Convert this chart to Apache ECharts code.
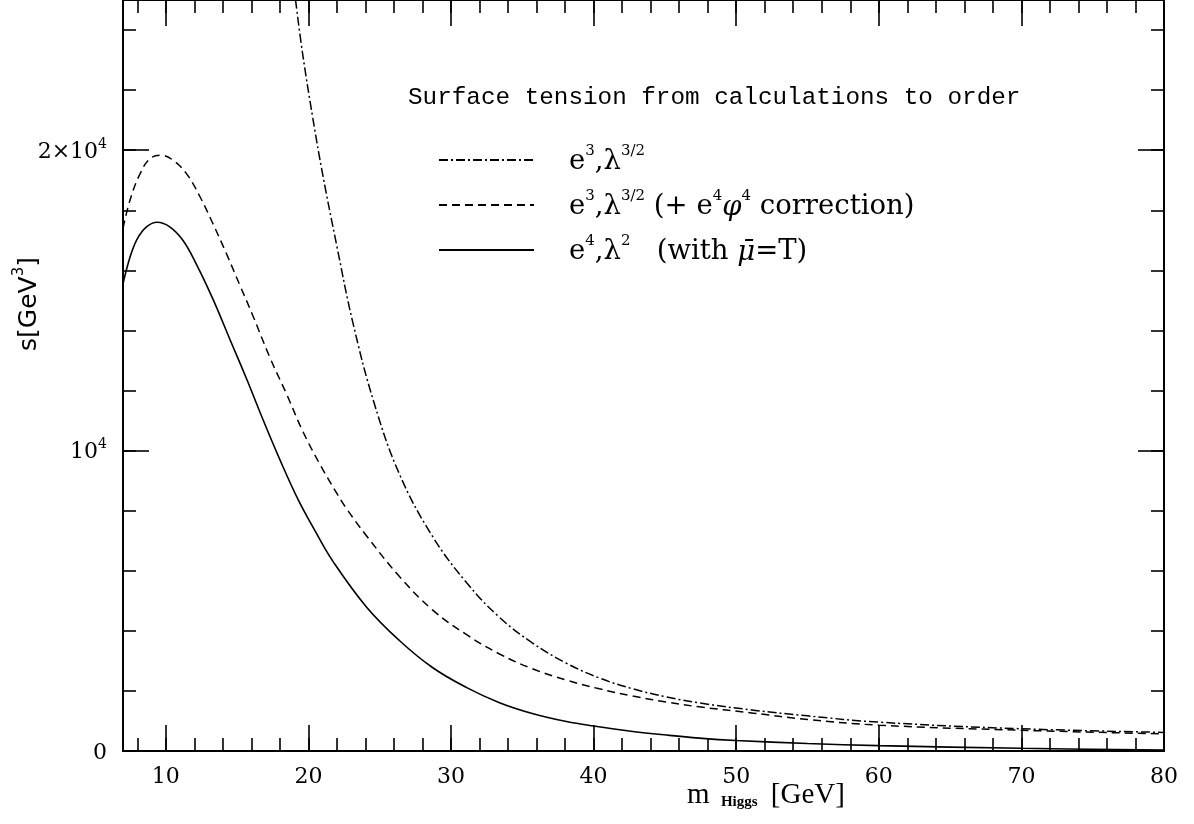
<!DOCTYPE html>
<html><head><meta charset="utf-8">
<script src="https://cdn.jsdelivr.net/npm/echarts@6/dist/echarts.min.js"></script>
<style>html,body{margin:0;padding:0;background:#fff}#c{width:1194px;height:824px}</style>
</head><body><div id="c"></div>
<script>
// ---- data (m_Higgs [GeV] -> s [GeV^3]) ----
const solidX = [7.0, 7.5, 8.0, 8.65, 9.4, 10.3, 11.2, 12.15, 13.3, 14.5, 15.7, 16.8, 18.0, 19.3, 20.5, 21.7, 24.1, 26.4, 28.7, 31.1, 33.4, 35.7, 38.1, 40.0, 42.75, 45.1, 47.4, 50.0, 55.0, 60.0, 70.0, 80.0];
const solidY = [15550, 16450, 17050, 17450, 17600, 17440, 17000, 16200, 15050, 13700, 12350, 11050, 9700, 8350, 7300, 6330, 4780, 3670, 2780, 2110, 1610, 1250, 980, 830, 650, 530, 430, 350, 250, 180, 90, 30];

const dashX = [7.0, 7.5, 8.2, 8.9, 9.7, 10.5, 11.45, 12.4, 13.3, 14.25, 15.2, 16.1, 17.3, 18.5, 19.6, 20.8, 21.9, 22.7, 24.1, 26.4, 28.7, 31.1, 33.4, 35.7, 38.1, 40.4, 42.75, 45.1, 47.4, 51.2, 55.0, 60.0, 70.0, 80.0];
const dashY = [17400, 18350, 19220, 19720, 19830, 19670, 19220, 18450, 17560, 16560, 15500, 14500, 13100, 11850, 10650, 9550, 8650, 8050, 7150, 5800, 4700, 3870, 3230, 2740, 2360, 2070, 1830, 1630, 1470, 1260, 1050, 860, 690, 570];

const dotX = [19.1, 19.6, 20.3, 21.0, 22.0, 23.1, 24.6, 26.4, 28.7, 31.1, 33.4, 35.7, 38.1, 40.4, 42.75, 45.1, 47.4, 51.2, 55.0, 60.0, 70.0, 80.0];
const dotY = [25000, 23200, 21100, 19200, 16800, 14300, 11600, 9200, 7150, 5600, 4450, 3600, 2920, 2430, 2070, 1800, 1600, 1360, 1170, 960, 740, 620];

const xMajor = [10, 20, 30, 40, 50, 60, 70, 80];
const xMinor = [8, 10, 12, 14, 16, 18, 20, 22, 24, 26, 28, 30, 32, 34, 36, 38, 40, 42, 44, 46, 48, 50, 52, 54, 56, 58, 60, 62, 64, 66, 68, 70, 72, 74, 76, 78, 80];
const yMajor = [0, 10000, 20000];
const yMinor = [0, 2000, 4000, 6000, 8000, 10000, 12000, 14000, 16000, 18000, 20000, 22000, 24000];
const yTickText = {0: '{n|0}', 10000: '{n|10}{s|4}', 20000: '{n|2×10}{s|4}'};

const seriesNames = ['e3,λ3/2', 'e3,λ3/2 (+ e4φ4 correction)', 'e4,λ2 (with μ̄=T)'];
const legendRich = {
  'e3,λ3/2': '{b|e}{s|3}{b|,λ}{s|3/2}',
  'e3,λ3/2 (+ e4φ4 correction)': '{b|e}{s|3}{b|,λ}{s|3/2}{b| (+ e}{s|4}{i|φ}{s|4}{b| correction)}',
  'e4,λ2 (with μ̄=T)': '{b|e}{s|4}{b|,λ}{s|2}{b|   (with }{i|\u03bc\u0304}{b|=T)}'
};

const zip = (xs, ys) => xs.map((x, i) => [x, ys[i]]);
const BLK = '#000';
const serif = 'DejaVu Serif';

function xAx(pos, ticks, len, labels) {
  return {
    type: 'value', position: pos, min: 7, max: 80,
    axisLine: {show: true, onZero: false, lineStyle: {color: BLK, width: 2}},
    axisTick: {show: true, inside: true, length: len, customValues: ticks, lineStyle: {color: BLK, width: 1.6}},
    axisLabel: labels ? {show: true, customValues: xMajor, margin: 15, color: BLK, fontFamily: serif, fontSize: 22} : {show: false},
    splitLine: {show: false}
  };
}
function yAx(pos, ticks, len, labels) {
  return {
    type: 'value', position: pos, min: 0, max: 25000,
    axisLine: {show: true, onZero: false, lineStyle: {color: BLK, width: 2}},
    axisTick: {show: true, inside: true, length: len, customValues: ticks, lineStyle: {color: BLK, width: 1.6}},
    axisLabel: labels ? {
      show: true, customValues: yMajor, margin: 16, color: BLK,
      formatter: v => yTickText[v] || '',
      rich: {
        n: {fontFamily: serif, fontSize: 22, color: BLK, lineHeight: 26, verticalAlign: 'bottom'},
        s: {fontFamily: serif, fontSize: 14, color: BLK, lineHeight: 12, verticalAlign: 'top'}
      }
    } : {show: false},
    splitLine: {show: false}
  };
}

const chart = echarts.init(document.getElementById('c'), null, {renderer: 'canvas'});
chart.setOption({
  backgroundColor: '#fff',
  animation: false,
  grid: {left: 123, right: 30, top: 0, bottom: 73, containLabel: false},
  xAxis: [xAx('bottom', xMajor, 26, true), xAx('bottom', xMinor, 13, false), xAx('top', xMajor, 26, false), xAx('top', xMinor, 13, false)],
  yAxis: [yAx('left', yMajor, 26, true), yAx('left', yMinor, 13, false), yAx('right', yMajor, 26, false), yAx('right', yMinor, 13, false)],
  legend: {
    orient: 'vertical', left: 433, top: 139, itemWidth: 95, itemHeight: 20, itemGap: 13,
    data: seriesNames,
    formatter: n => legendRich[n],
    itemStyle: {opacity: 0},
    textStyle: {
      padding: [0, 0, 0, 30],
      rich: {
        b: {fontFamily: serif, fontSize: 27.5, color: BLK, lineHeight: 32, verticalAlign: 'bottom'},
        i: {fontFamily: serif, fontSize: 27.5, fontStyle: 'italic', color: BLK, lineHeight: 32, verticalAlign: 'bottom'},
        s: {fontFamily: serif, fontSize: 15, color: BLK, lineHeight: 14, verticalAlign: 'top'}
      }
    }
  },
  graphic: [
    {type: 'text', left: 408, top: 86, style: {text: 'Surface tension from calculations to order', font: '24.3px "Liberation Mono"', fill: BLK}},
    {type: 'text', x: 27, y: 304, rotation: Math.PI / 2, style: {
      text: '{a|s[GeV}{s|3}{a|]}', align: 'center', verticalAlign: 'middle',
      rich: {a: {fontFamily: 'DejaVu Sans', fontSize: 25, fill: BLK, lineHeight: 30, verticalAlign: 'bottom'},
             s: {fontFamily: 'DejaVu Sans', fontSize: 15, fill: BLK, lineHeight: 14, verticalAlign: 'top'}}
    }},
    {type: 'text', x: 766, y: 795, style: {
      text: '{m|m }{h|Higgs}{m| [GeV]}', align: 'center', verticalAlign: 'middle',
      rich: {m: {fontFamily: 'Liberation Serif', fontSize: 29, fill: BLK, lineHeight: 30},
             h: {fontFamily: 'Liberation Serif', fontSize: 15, fontWeight: 'bold', fill: BLK, lineHeight: 30, verticalAlign: 'bottom', padding: [0, 6, 0, 4]}}
    }}
  ],
  series: [
    {name: seriesNames[0], type: 'line', data: zip(dotX, dotY), symbol: 'none', smooth: 0.4, clip: true,
     lineStyle: {color: BLK, width: 1.5, type: [9, 3, 2, 3]}, itemStyle: {color: BLK}},
    {name: seriesNames[1], type: 'line', data: zip(dashX, dashY), symbol: 'none', smooth: 0.4, clip: true,
     lineStyle: {color: BLK, width: 1.5, type: [8, 5]}, itemStyle: {color: BLK}},
    {name: seriesNames[2], type: 'line', data: zip(solidX, solidY), symbol: 'none', smooth: 0.4, clip: true,
     lineStyle: {color: BLK, width: 1.6, type: 'solid'}, itemStyle: {color: BLK}}
  ]
});
</script>
</body></html>
